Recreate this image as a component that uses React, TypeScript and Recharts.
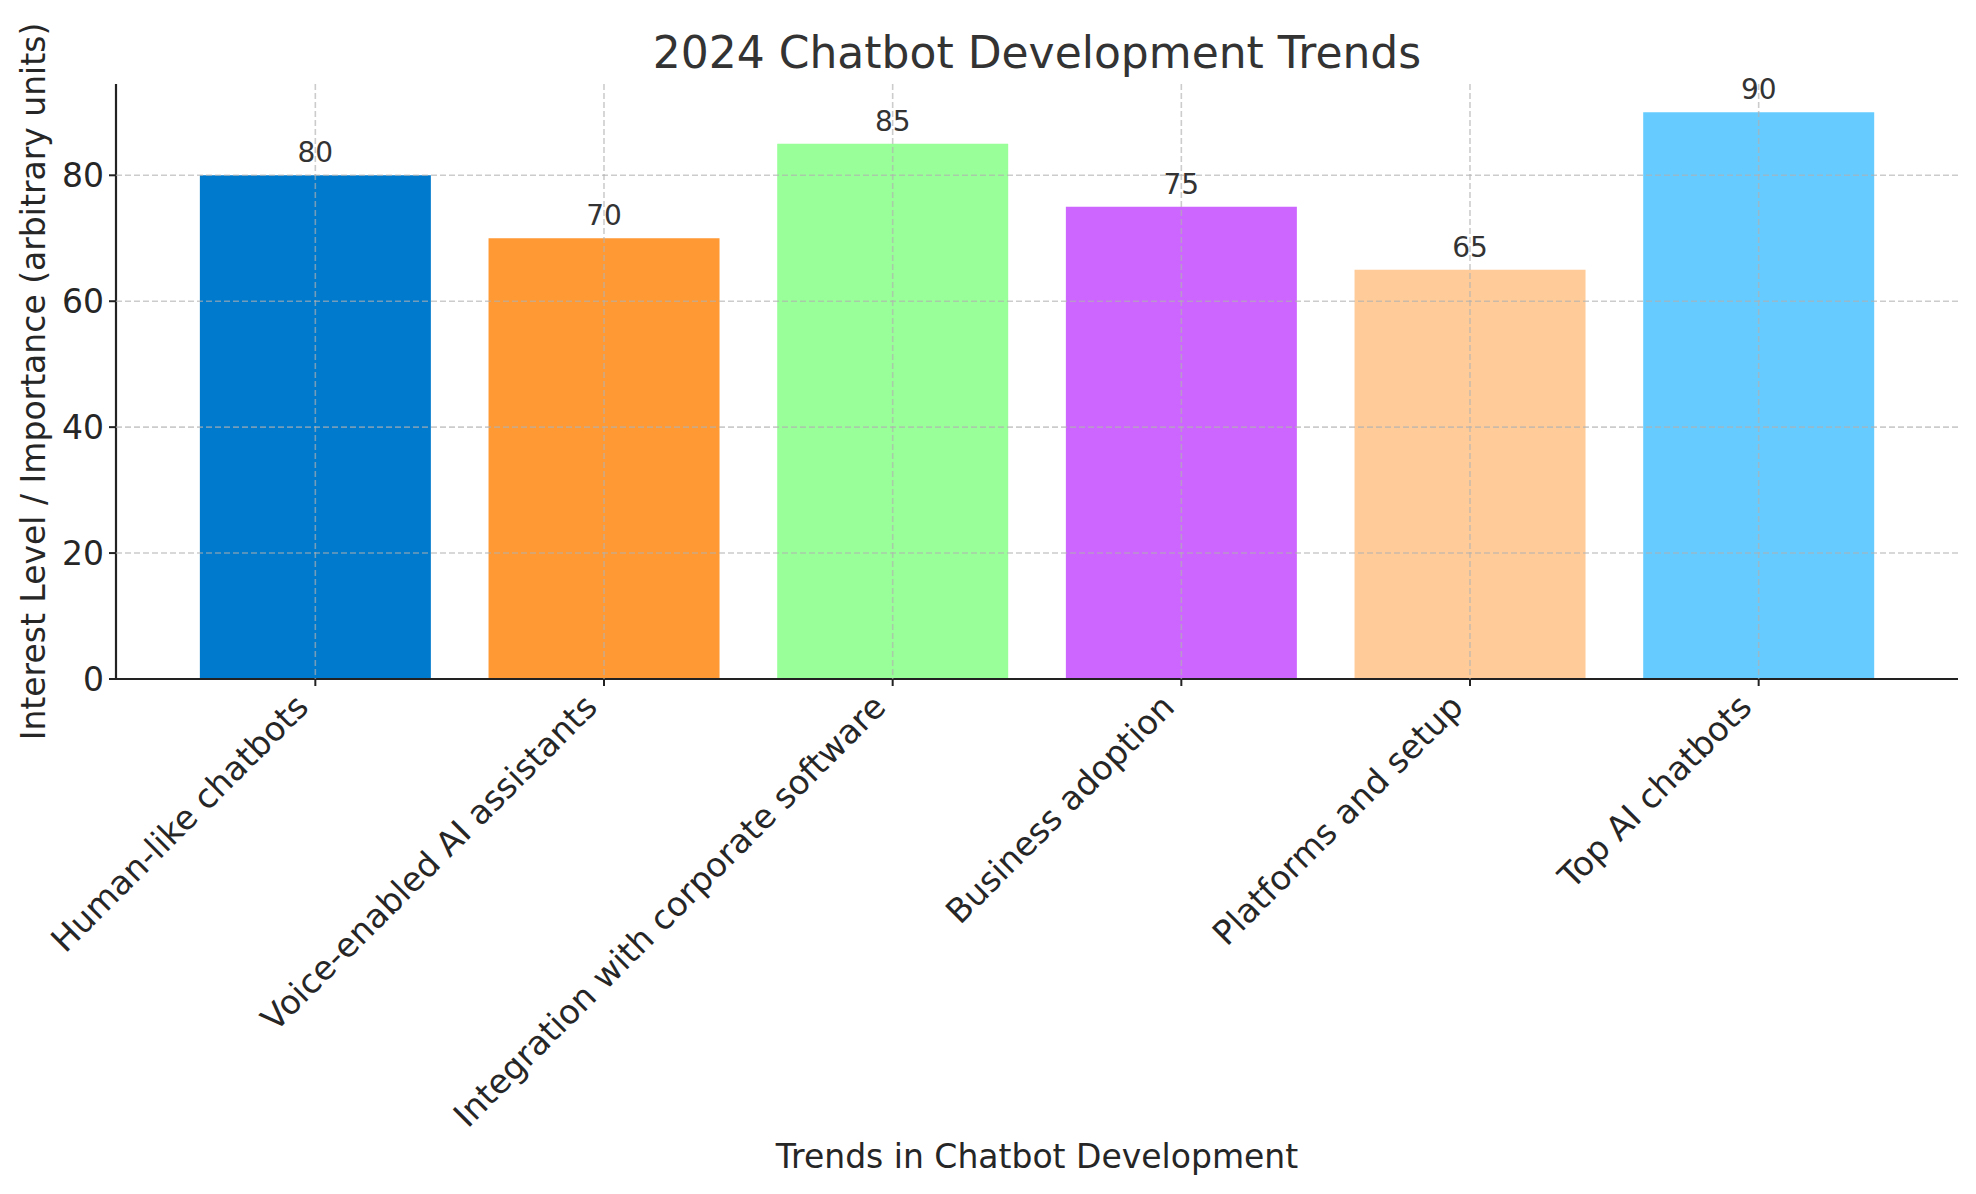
// Bar chart of 2024 chatbot trends, laid out to match a matplotlib export
// (1976x1194). Text sizes follow 12pt ticks/labels and a 16pt title at ~200dpi.

import { Bar, BarChart, CartesianGrid, Cell, LabelList, XAxis, YAxis } from "recharts";

const TRENDS = [
  "Human-like chatbots",
  "Voice-enabled AI assistants",
  "Integration with corporate software",
  "Business adoption",
  "Platforms and setup",
  "Top AI chatbots",
];
const INTEREST = [80, 70, 85, 75, 65, 90];
const BAR_COLORS = ["#007ACC", "#FF9933", "#99FF99", "#CC66FF", "#FFCC99", "#66CCFF"];
const Y_TICKS = [0, 20, 40, 60, 80];
const GRID_ROWS = [20, 40, 60, 80]; // y=0 sits under the spine

const W = 1976;
const H = 1194;
const PLOT_LEFT = 116;
const PLOT_TOP = 84;
const PLOT_BOTTOM = 679;
const PLOT_RIGHT = 1958;

const FONT = "'DejaVu Sans', sans-serif";
const INK = "#262626";
const SPINE = "#222";

const rows = TRENDS.map((name, i) => ({ name, value: INTEREST[i] }));

// 45° labels, right end tucked under the tick like ha="right" in matplotlib
function SlantTick(props: { x: number; y: number; payload: { value: string } }) {
  const ax = props.x - 5;
  const ay = PLOT_BOTTOM + 30;
  return (
    <text
      x={ax}
      y={ay}
      transform={`rotate(-45 ${ax} ${ay})`}
      textAnchor="end"
      fontSize={33.5}
      fontFamily={FONT}
      fill={INK}
    >
      {props.payload.value}
    </text>
  );
}

export default function App() {
  const midX = (PLOT_LEFT + PLOT_RIGHT) / 2;
  const midY = (PLOT_TOP + PLOT_BOTTOM) / 2;
  return (
    <div style={{ position: "absolute", left: 0, top: 0, width: W, height: H, background: "#fff" }}>
      <BarChart
        width={W}
        height={H}
        data={rows}
        margin={{ top: PLOT_TOP, right: W - PLOT_RIGHT, left: 0, bottom: 0 }}
        barCategoryGap="10%"
        style={{ fontFamily: FONT }}
      >
        <XAxis
          dataKey="name"
          height={H - PLOT_BOTTOM}
          padding={{ left: 55, right: 55 }}
          interval={0}
          tick={SlantTick}
          tickSize={7}
          tickLine={{ stroke: SPINE, strokeWidth: 2 }}
          axisLine={{ stroke: SPINE, strokeWidth: 2.2 }}
        />
        <YAxis
          width={PLOT_LEFT}
          domain={[0, 94.5]}
          ticks={Y_TICKS}
          tickSize={7}
          tickMargin={5}
          tick={{ fontSize: 33, fill: INK, fontFamily: FONT }}
          tickLine={{ stroke: SPINE, strokeWidth: 2 }}
          axisLine={{ stroke: SPINE, strokeWidth: 2.2 }}
        />
        <Bar dataKey="value" isAnimationActive={false}>
          {rows.map((r, i) => (
            <Cell key={r.name} fill={BAR_COLORS[i]} />
          ))}
          <LabelList
            dataKey="value"
            position="top"
            offset={13}
            fontSize={28}
            fill="#333"
            fontFamily={FONT}
          />
        </Bar>
        <CartesianGrid
          stroke="#b0b0b0"
          strokeOpacity={0.65}
          strokeWidth={1.6}
          strokeDasharray="6 3"
          syncWithTicks
          horizontalValues={GRID_ROWS}
          zIndex={1000}
        />
        <text x={midX} y={68} textAnchor="middle" fontSize={44} fontFamily={FONT} fill="#333">
          2024 Chatbot Development Trends
        </text>
        <text x={midX} y={1168} textAnchor="middle" fontSize={33} fontFamily={FONT} fill={INK}>
          Trends in Chatbot Development
        </text>
        <text
          x={45}
          y={midY}
          transform={`rotate(-90 45 ${midY})`}
          textAnchor="middle"
          fontSize={33}
          fontFamily={FONT}
          fill={INK}
        >
          Interest Level / Importance (arbitrary units)
        </text>
      </BarChart>
    </div>
  );
}
